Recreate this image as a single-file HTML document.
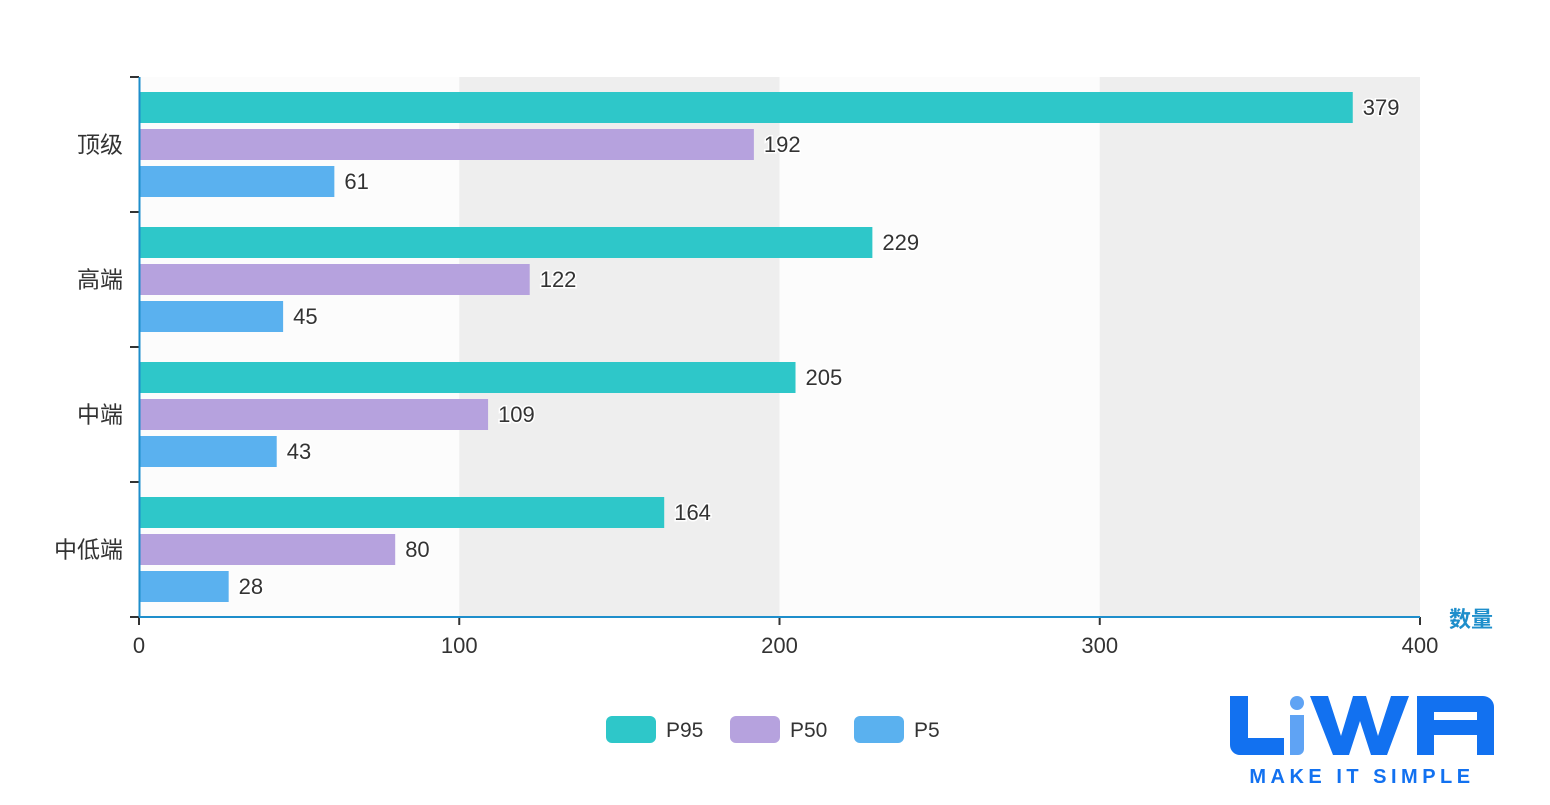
<!DOCTYPE html>
<html><head><meta charset="utf-8"><style>
body{margin:0;background:#fff;width:1550px;height:800px;overflow:hidden}
svg text{font-family:"Liberation Sans","Noto Sans CJK SC",sans-serif}
</style></head><body>
<svg id="chart" width="1550" height="800" xmlns="http://www.w3.org/2000/svg">
<g id="bands"></g><g id="bars"></g><g id="axes"></g>
<g>
 <g><rect x="606" y="716" width="50" height="27" rx="6" fill="#2ec7c9"/><text x="666" y="737" font-size="21" fill="#333">P95</text></g>
 <g><rect x="730" y="716" width="50" height="27" rx="6" fill="#b6a2de"/><text x="790" y="737" font-size="21" fill="#333">P50</text></g>
 <g><rect x="854" y="716" width="50" height="27" rx="6" fill="#5ab1ef"/><text x="914" y="737" font-size="21" fill="#333">P5</text></g>
</g>
<g>
 <path d="M1230 696h18v42h36v17h-44a10 10 0 0 1-10-10z" fill="#1271f0"/>
 <circle cx="1297" cy="703" r="7" fill="#5fa3f4"/>
 <path d="M1290 715h14v34a6 6 0 0 1-6 6h-8z" fill="#5fa3f4"/>
 <path d="M1310 696h18l13 40 12-40h13l12 40 13-40h18l-22 59h-16l-11-34-11 34h-16z" fill="#1271f0"/>
 <path d="M1417 696h66a11 11 0 0 1 11 11v48h-17v-20h-43v20h-17z M1434 712v8h43v-8z" fill="#1271f0" fill-rule="evenodd"/>
 <text x="1362" y="783" font-size="20" font-weight="bold" fill="#1271f0" text-anchor="middle" letter-spacing="4.5">MAKE IT SIMPLE</text>
</g>
</svg>
<script>
const categories=["顶级","高端","中端","中低端"];
const p95=[379,229,205,164];
const p50=[192,122,109,80];
const p5=[61,45,43,28];
const xTicks=[0,100,200,300,400];
const series=[{name:"p95",vals:p95,color:"#2ec7c9"},{name:"p50",vals:p50,color:"#b6a2de"},{name:"p5",vals:p5,color:"#5ab1ef"}];
const NS="http://www.w3.org/2000/svg";
const X0=139,X1=1420,Y0=77,Y1=617,XMAX=400;
const xs=v=>X0+(v/XMAX)*(X1-X0);
const band=(Y1-Y0)/categories.length;
function mk(tag,attrs,parent,txt){const e=document.createElementNS(NS,tag);for(const k in attrs)e.setAttribute(k,attrs[k]);if(txt!==undefined)e.textContent=txt;document.getElementById(parent).appendChild(e);return e;}
for(let i=0;i<xTicks.length-1;i++){
 const r=mk('rect',{x:xs(xTicks[i]),y:Y0,width:xs(xTicks[i+1])-xs(xTicks[i]),height:Y1-Y0,fill:i%2?'#eeeeee':'#fcfcfc'},'bands');
 
 
}
categories.forEach((c,ci)=>{
 const top=Y0+ci*band;
 series.forEach((s,si)=>{
  const y=top+15+si*37;
  const r=mk('rect',{x:X0,y:y,width:xs(s.vals[ci])-X0,height:31,fill:s.color},'bars');
  
  
  const t=mk('text',{x:xs(s.vals[ci])+10,y:y+23,'font-size':22,fill:'#333',stroke:'#fff','stroke-width':3,'paint-order':'stroke'},'bars',String(s.vals[ci]));
  
  
 });
 const l=mk('text',{x:123,y:top+band/2+8,'font-size':23,fill:'#333','text-anchor':'end'},'axes',c);
 
 
});
for(let i=0;i<=categories.length;i++){
 const y=Y0+i*band;
 const t=mk('line',{x1:130,x2:X0,y1:y,y2:y,stroke:'#333','stroke-width':2},'axes');
 
 
}
xTicks.forEach(v=>{
 const t=mk('line',{x1:xs(v),x2:xs(v),y1:Y1,y2:Y1+8,stroke:'#333','stroke-width':2},'axes');
 
 
 const l=mk('text',{x:xs(v),y:653,'font-size':22,fill:'#333','text-anchor':'middle'},'axes',String(v));
 
 
});
const ya=mk('line',{x1:X0+0.5,x2:X0+0.5,y1:Y0,y2:Y1,stroke:'#1e8ecb','stroke-width':2},'axes');


const xa=mk('line',{x1:X0,x2:X1,y1:Y1,y2:Y1,stroke:'#1e8ecb','stroke-width':2},'axes');


const xt=mk('text',{x:1449,y:627,'font-size':22,fill:'#1e8ecb','font-weight':'bold'},'axes','数量');


</script>
</body></html>
